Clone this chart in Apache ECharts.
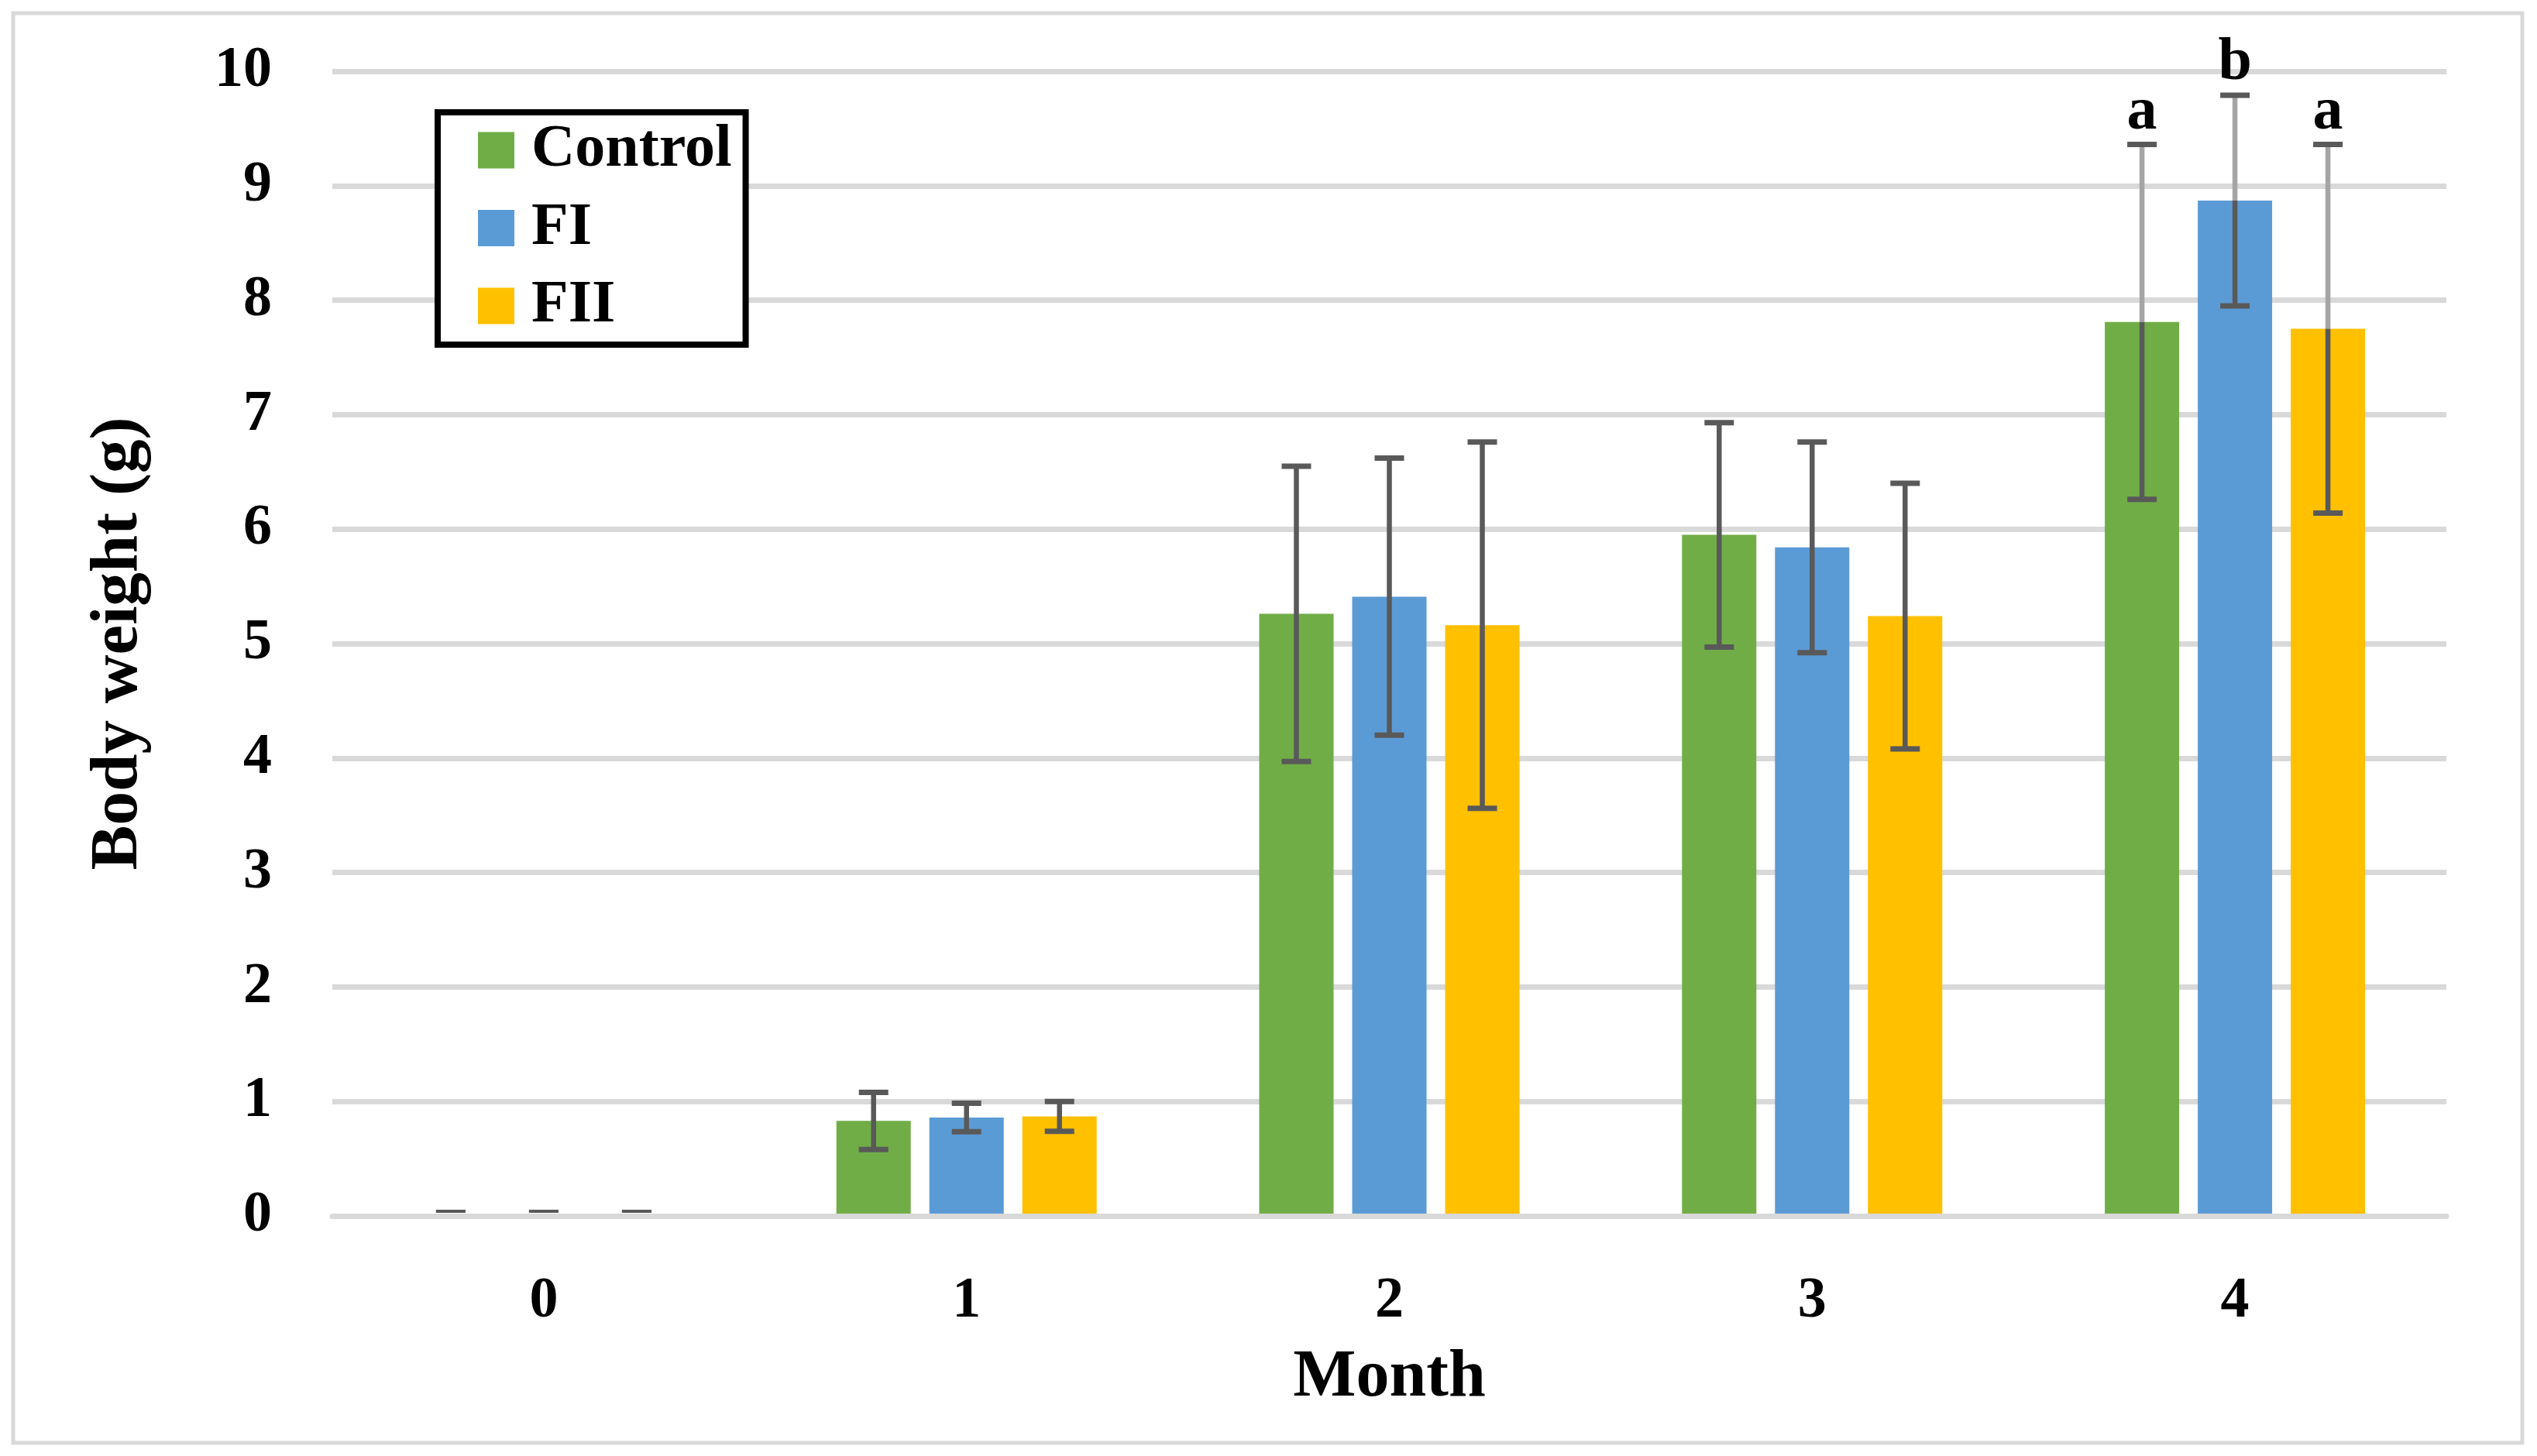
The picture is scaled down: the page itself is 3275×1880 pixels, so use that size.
<!DOCTYPE html>
<html>
<head>
<meta charset="utf-8">
<script src="https://cdn.jsdelivr.net/npm/echarts@6/dist/echarts.min.js"></script>
<style>
  html, body { margin: 0; padding: 0; background: #ffffff; }
  #chart { width: 3275px; height: 1880px; }
</style>
</head>
<body>
<div id="chart"></div>
<script>
// ---- data ----
const months = ['0', '1', '2', '3', '4'];
const seriesNames = ['Control', 'FI', 'FII'];
const controlMean = [0, 0.83, 5.26, 5.95, 7.81];
const controlSD   = [0, 0.25, 1.29, 0.98, 1.55];
const fiMean      = [0, 0.86, 5.41, 5.84, 8.87];
const fiSD        = [0, 0.125, 1.21, 0.92, 0.92];
const fiiMean     = [0, 0.87, 5.16, 5.24, 7.75];
const fiiSD       = [0, 0.13, 1.60, 1.16, 1.61];
const controlLetters = ['', '', '', '', 'a'];
const fiLetters      = ['', '', '', '', 'b'];
const fiiLetters     = ['', '', '', '', 'a'];
const yTicks = [0, 1, 2, 3, 4, 5, 6, 7, 8, 9, 10];

// ---- styles ----
const COLORS = ['#70ad47', '#5b9bd5', '#ffc000'];
const FONT = 'Liberation Serif';
const BAR_W = 0.1759;   // fraction of category band
const BAR_GAP = 0.25;   // fraction of bar width
const ERR_COLOR = '#595959';
const ERR_LIGHT = '#a5a5a5';
const LIGHT_STEM_CATEGORY = 4;

const means = [controlMean, fiMean, fiiMean];
const sds = [controlSD, fiSD, fiiSD];
const letters = [controlLetters, fiLetters, fiiLetters];

function makeRender(k) {
  return function (params, api) {
    const idx = params.dataIndex;
    const m = api.value(1);
    const sd = sds[k][idx];
    const band = api.size([1, 0])[0];
    const bw = band * BAR_W;
    const gap = bw * BAR_GAP;
    const total = 3 * bw + 2 * gap;
    const cx = api.coord([idx, 0])[0] - total / 2 + k * (bw + gap) + bw / 2;
    let yTop = api.coord([idx, m + sd])[1];
    let yBot = api.coord([idx, m - sd])[1];
    const yMean = api.coord([idx, m])[1];
    if (sd === 0) { yTop -= 6; yBot -= 6; }
    const capHalf = 19;
    const children = [];
    const lw = 6.5;
    if (idx === LIGHT_STEM_CATEGORY) {
      children.push({ type: 'line', shape: { x1: cx, y1: yMean, x2: cx, y2: yTop }, style: { stroke: ERR_LIGHT, lineWidth: lw } });
      children.push({ type: 'line', shape: { x1: cx, y1: yBot, x2: cx, y2: yMean }, style: { stroke: ERR_COLOR, lineWidth: lw } });
    } else if (sd > 0) {
      children.push({ type: 'line', shape: { x1: cx, y1: yBot, x2: cx, y2: yTop }, style: { stroke: ERR_COLOR, lineWidth: lw } });
    }
    const capW = sd === 0 ? 4 : 7;
    children.push({ type: 'line', shape: { x1: cx - capHalf, y1: yTop, x2: cx + capHalf, y2: yTop }, style: { stroke: ERR_COLOR, lineWidth: capW } });
    children.push({ type: 'line', shape: { x1: cx - capHalf, y1: yBot, x2: cx + capHalf, y2: yBot }, style: { stroke: ERR_COLOR, lineWidth: capW } });
    const t = letters[k][idx];
    if (t) {
      children.push({
        type: 'text',
        x: cx, y: yTop - 2,
        style: { text: t, fill: '#000', font: 'bold 78px "' + FONT + '"', align: 'center', verticalAlign: 'bottom' }
      });
    }
    return { type: 'group', children: children };
  };
}

const series = [];
for (let k = 0; k < 3; k++) {
  series.push({
    name: seriesNames[k],
    type: 'bar',
    data: means[k],
    barWidth: (BAR_W * 100) + '%',
    barGap: (BAR_GAP * 100) + '%',
    itemStyle: { color: COLORS[k] },
    z: 2
  });
}
for (let k = 0; k < 3; k++) {
  series.push({
    type: 'custom',
    name: seriesNames[k] + ' error',
    renderItem: makeRender(k),
    data: means[k].map((v, i) => [i, v]),
    encode: { x: 0, y: 1 },
    z: 6,
    silent: true
  });
}

const chart = echarts.init(document.getElementById('chart'), null, { renderer: 'canvas' });
chart.setOption({
  backgroundColor: '#ffffff',
  animation: false,
  color: COLORS,
  textStyle: { fontFamily: FONT },
  graphic: [{
    type: 'rect',
    shape: { x: 17, y: 17, width: 3239, height: 1846 },
    style: { fill: 'none', stroke: '#d9d9d9', lineWidth: 5 },
    z: -10
  }],
  grid: { left: 429, right: 117, top: 92, bottom: 310, containLabel: false },
  legend: {
    data: seriesNames,
    orient: 'vertical',
    left: 565, top: 145,
    padding: [10, 18, 11, 52],
    itemWidth: 47, itemHeight: 47, itemGap: 22.5,
    borderColor: '#000', borderWidth: 8,
    backgroundColor: '#fff',
    icon: 'rect',
    textStyle: { fontFamily: FONT, fontWeight: 'bold', fontSize: 78, color: '#000', padding: [0, 0, 0, 17] }
  },
  xAxis: {
    type: 'category',
    data: months,
    z: 5,
    axisTick: { show: false },
    axisLine: { lineStyle: { color: '#d9d9d9', width: 7 } },
    axisLabel: { fontFamily: FONT, fontWeight: 'bold', fontSize: 74, color: '#000', margin: 74 },
    name: 'Month',
    nameLocation: 'middle',
    nameGap: 167,
    nameTextStyle: { fontFamily: FONT, fontWeight: 'bold', fontSize: 86, color: '#000' }
  },
  yAxis: {
    type: 'value',
    min: yTicks[0], max: yTicks[yTicks.length - 1], interval: 1,
    axisLine: { show: false },
    axisTick: { show: false },
    splitLine: { lineStyle: { color: '#d9d9d9', width: 7 } },
    axisLabel: { fontFamily: FONT, fontWeight: 'bold', fontSize: 74, color: '#000', margin: 78 },
    name: 'Body weight (g)',
    nameLocation: 'middle',
    nameGap: 232,
    nameTextStyle: { fontFamily: FONT, fontWeight: 'bold', fontSize: 87, color: '#000' }
  },
  series: series
});
</script>
</body>
</html>
